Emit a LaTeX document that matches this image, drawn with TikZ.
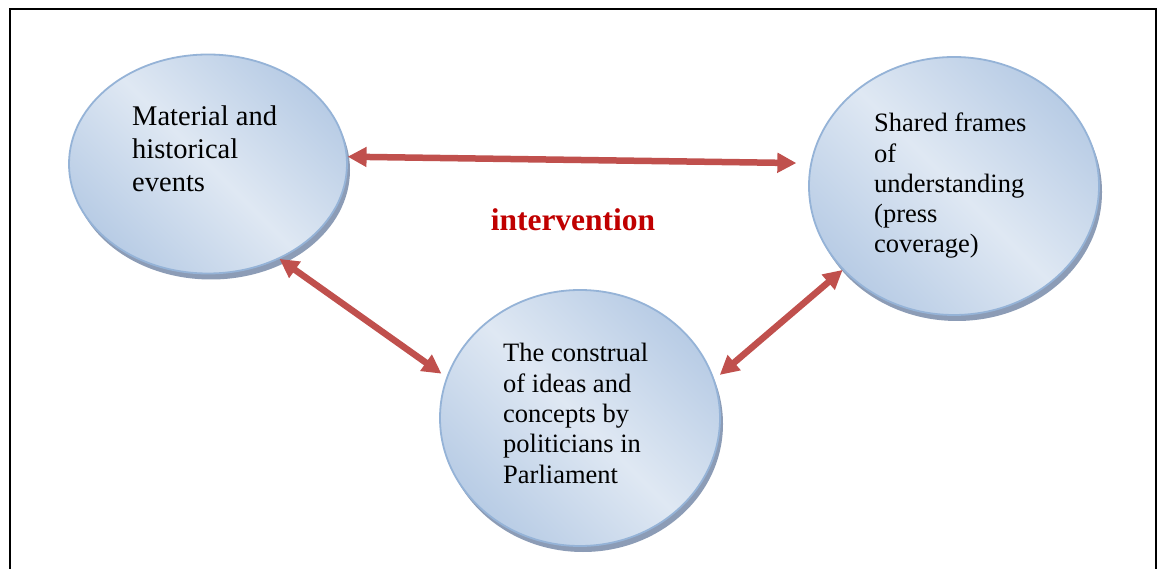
\documentclass[tikz,border=0pt]{standalone}
\usepackage{fontspec}
\setmainfont{Liberation Serif}
\usetikzlibrary{shapes.geometric,arrows.meta,shadows}
\definecolor{bord}{RGB}{149,179,215}
\definecolor{lightfill}{RGB}{223,232,243}
\definecolor{darkfill}{RGB}{184,204,229}
\definecolor{shad}{RGB}{140,156,182}
\definecolor{arr}{RGB}{192,80,77}
\definecolor{intred}{RGB}{192,0,0}
\begin{document}
\begin{tikzpicture}[x=1pt,y=-1pt,
  bubble/.style={ellipse, draw=bord, line width=1.8pt, inner sep=0pt,
    top color=darkfill, bottom color=darkfill, middle color=lightfill, shading angle=-45,
    drop shadow={shadow xshift=3pt, shadow yshift=-6pt, fill=shad, opacity=1}},
  link/.style={draw=arr, line width=6.5pt,
    {Triangle[length=19pt,width=19pt]}-{Triangle[length=19pt,width=19pt]}},
  bigtxt/.style={align=left, inner sep=0pt, anchor=base west, font=\fontsize{28.5}{33}\selectfont},
  smalltxt/.style={align=left, inner sep=0pt, anchor=base west, font=\fontsize{26.5}{30.3}\selectfont}]
\useasboundingbox (0,0) rectangle (1157,569);
\fill[white] (0,0) rectangle (1157,569);
\draw[line width=2pt] (9.5,9) rectangle (1155.5,620);

\node[bubble, minimum width=278pt, minimum height=219pt] (e1) at (208,164) {};
\node[bubble, minimum width=290pt, minimum height=258pt] (e2) at (954,186) {};
\node[bubble, minimum width=280pt, minimum height=256pt] (e3) at (580,418) {};

\node[bigtxt] (t1) at (132,192) {Material and\\historical\\events};
\node[smalltxt] (t2) at (874,253) {Shared frames\\of\\understanding\\(press\\coverage)};
\node[smalltxt] (t3) at (503,483) {The construal\\of ideas and\\concepts by\\politicians in\\Parliament};

\node[anchor=base, inner sep=0pt, text=intred, font=\fontsize{31.5}{36}\selectfont\bfseries] (iv) at (573,231) {intervention};

\draw[link, shorten >=14pt] (e1.3) -- (e2.171);
\draw[link, shorten >=6pt] (e1.-53) -- (e3.163);
\draw[link, shorten <=7pt] (e3.16) -- (e2.217);
\end{tikzpicture}
\end{document}
